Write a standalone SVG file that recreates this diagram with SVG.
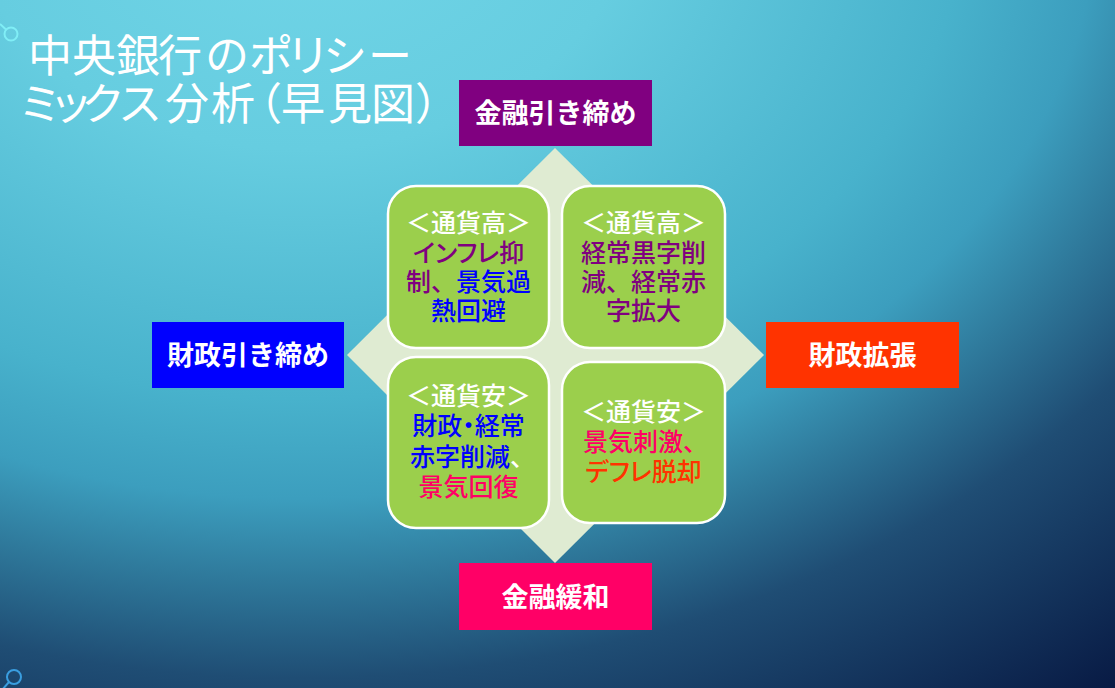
<svg xmlns="http://www.w3.org/2000/svg" width="1115" height="688" viewBox="0 0 1115 688">
<defs>
<radialGradient id="bg" gradientUnits="userSpaceOnUse" cx="300" cy="-100" r="1330" gradientTransform="translate(300 -100) scale(1 0.75) translate(-300 100)">
<stop offset="0" stop-color="#72d6e8"/>
<stop offset="0.25" stop-color="#66cde0"/>
<stop offset="0.5" stop-color="#48b2cc"/>
<stop offset="0.6" stop-color="#3c9ebe"/>
<stop offset="0.68" stop-color="#2f7a9c"/>
<stop offset="0.78" stop-color="#1f4d74"/>
<stop offset="1" stop-color="#081a44"/>
</radialGradient>
<style>
.title{font-family:"Noto Sans CJK JP","Noto Sans",sans-serif;font-size:44px;fill:#ffffff;}
.lbl{font-family:"Noto Sans CJK JP","Noto Sans",sans-serif;font-size:27px;font-weight:700;fill:#ffffff;text-anchor:middle;}
.q{fill:#9bcf4c;stroke:#ffffff;stroke-width:2.5;}
.t{font-family:"Noto Sans CJK JP","Noto Sans",sans-serif;font-size:25px;font-weight:500;text-anchor:middle;}
.s{text-anchor:start;}
.p{font-feature-settings:"palt";}
.w{fill:#ffffff;}
.pu{fill:#800080;}
.bl{fill:#0000ff;}
.pk{fill:#ff0066;}
.or{fill:#ff3300;}
</style>
</defs>
<rect x="0" y="0" width="1115" height="688" fill="url(#bg)"/>
<g id="decor" fill="none" stroke-width="2">
<circle cx="11" cy="34" r="6.5" stroke="#80eef6"/>
<line x1="0" y1="24" x2="6" y2="29.5" stroke="#80eef6"/>
<circle cx="14" cy="677" r="7" stroke="#3a9ee0"/>
<line x1="9" y1="682" x2="2" y2="690" stroke="#3a9ee0"/>
</g>
<g id="title">
<text class="title" x="28 72 116 158 205 249 286 323 368" y="72">中央銀行のポリシー</text>
<text class="title" x="18 49 81 118 165 211 238 281 328 371 415" y="120">ミックス分析（早見図）</text>
</g>
<g id="diamond">
<polygon points="555,148 764,355 555,563 347,355" fill="#dfebd2"/>
</g>
<g id="connectors"></g>
<g id="node-monetary-tightening">
<rect x="459" y="80" width="193" height="66" fill="#800080"/>
<text class="lbl" x="555.5" y="123">金融引き締め</text>
</g>
<g id="node-monetary-easing">
<rect x="459" y="563" width="193" height="67" fill="#ff0066"/>
<text class="lbl" x="555.5" y="606.5">金融緩和</text>
</g>
<g id="node-fiscal-tightening">
<rect x="152" y="322" width="192" height="66" fill="#0000ff"/>
<text class="lbl" x="248" y="365">財政引き締め</text>
</g>
<g id="node-fiscal-expansion">
<rect x="766" y="322" width="193" height="66" fill="#ff3300"/>
<text class="lbl" x="862.5" y="365">財政拡張</text>
</g>
<g id="quad-tl">
<rect class="q" x="388" y="186" width="161" height="162" rx="28" ry="28"/>
<text class="t w" x="468.5" y="231.5">＜通貨高＞</text>
<text class="t pu p" x="468.5" y="261.5">インフレ抑</text>
<text class="t" x="468.5" y="291"><tspan class="pu">制、</tspan><tspan class="bl">景気過</tspan></text>
<text class="t bl" x="468.5" y="319.5">熱回避</text>
</g>
<g id="quad-tr">
<rect class="q" x="562" y="186" width="163" height="162" rx="28" ry="28"/>
<text class="t w" x="643.5" y="231.5">＜通貨高＞</text>
<text class="t pu" x="643.5" y="261.5">経常黒字削</text>
<text class="t pu" x="643.5" y="291">減、経常赤</text>
<text class="t pu" x="643.5" y="319.5">字拡大</text>
</g>
<g id="quad-bl">
<rect class="q" x="388" y="357" width="161" height="171" rx="28" ry="28"/>
<text class="t w" x="468.5" y="404.5">＜通貨安＞</text>
<text class="t bl p" x="468.5" y="434.5">財政・経常</text>
<text class="t s" x="410" y="465.5"><tspan class="bl">赤字削減</tspan><tspan class="w">、</tspan></text>
<text class="t pk" x="468.5" y="495.5">景気回復</text>
</g>
<g id="quad-br">
<rect class="q" x="562" y="362" width="163" height="161" rx="28" ry="28"/>
<text class="t w" x="643.5" y="420.5">＜通貨安＞</text>
<text class="t pk" x="645.5" y="450.5">景気刺激、</text>
<text class="t or p" x="643.5" y="480.5">デフレ脱却</text>
</g>
</svg>
